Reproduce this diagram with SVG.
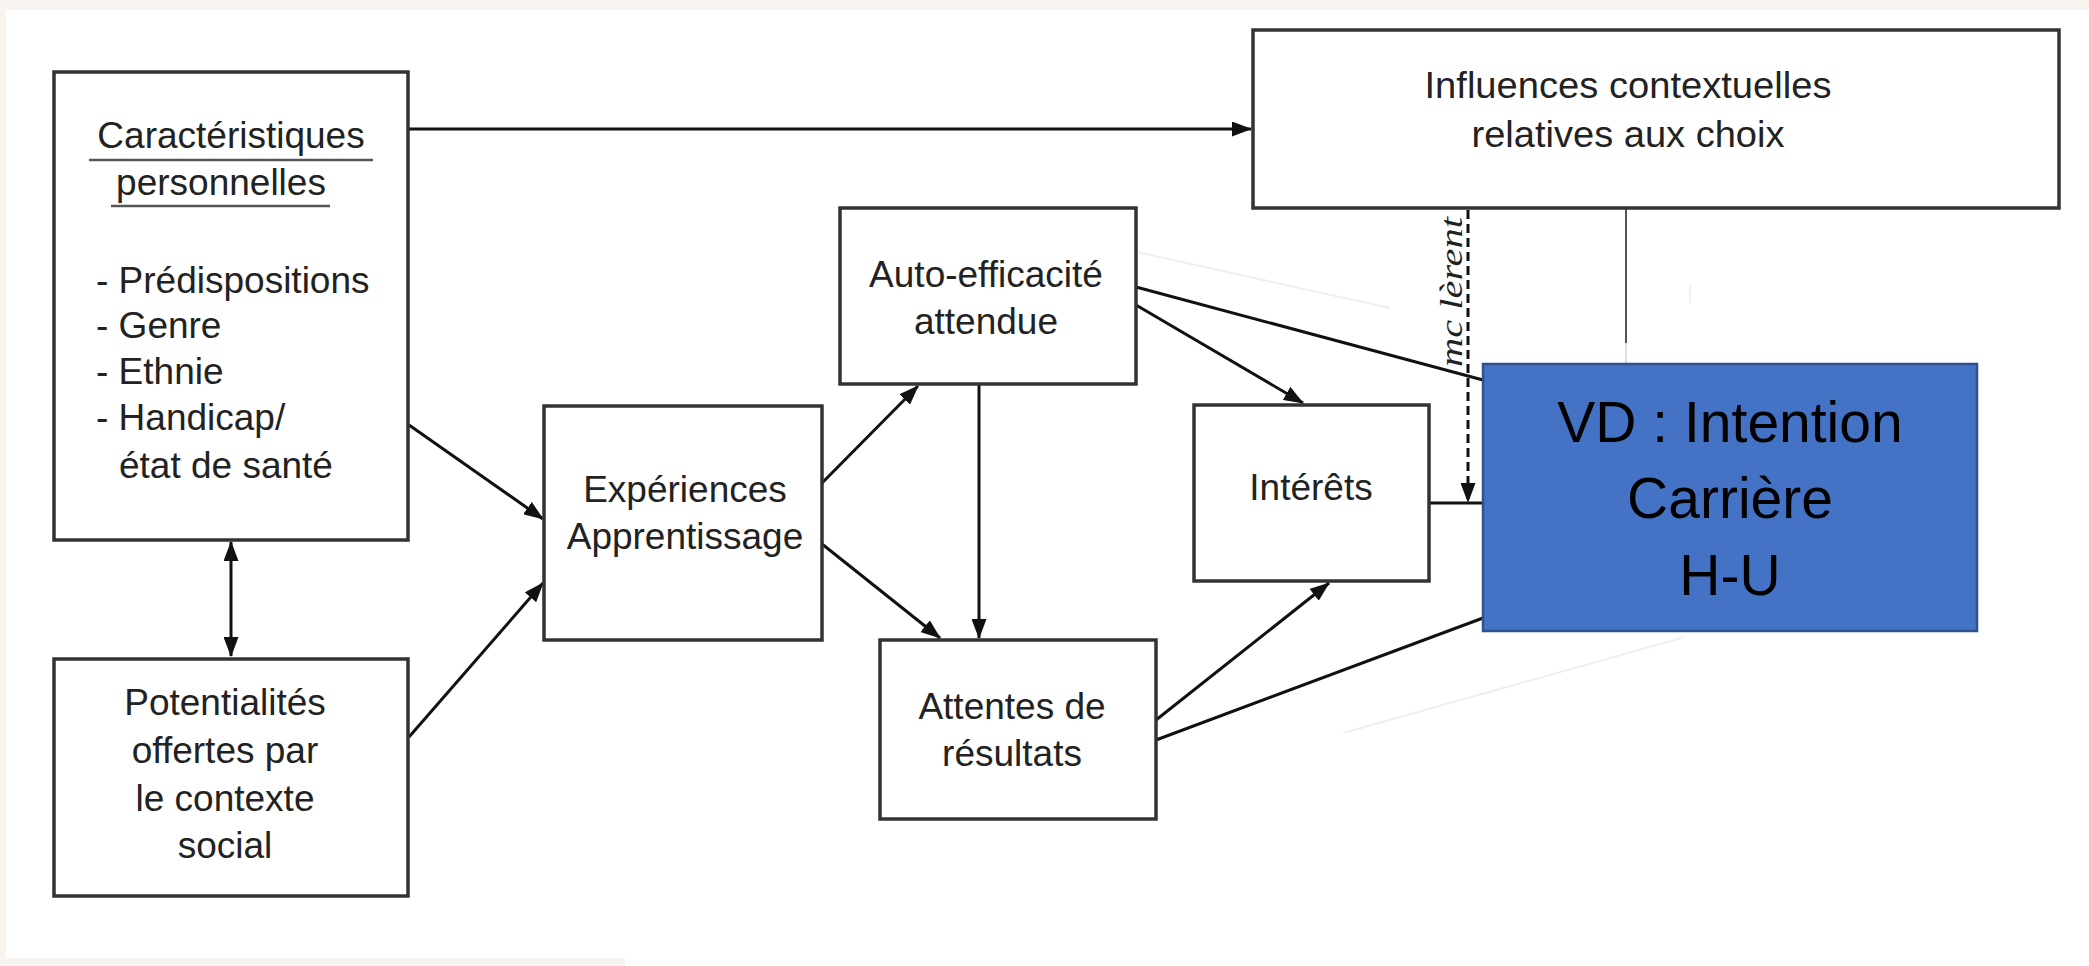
<svg xmlns="http://www.w3.org/2000/svg" width="2089" height="966" viewBox="0 0 2089 966">
<defs>
<marker id="ah" markerUnits="userSpaceOnUse" markerWidth="20" markerHeight="15" refX="19" refY="7.5" orient="auto-start-reverse">
<path d="M0,0 L20,7.5 L0,15 z" fill="#111"/>
</marker>
<style>
.box{fill:#fff;stroke:#333;stroke-width:3.5}
.t{font-family:"Liberation Sans",Arial,sans-serif;font-size:37px;fill:#222}
.c{text-anchor:middle}
.ln{stroke:#111;stroke-width:3;fill:none}
.arr{marker-end:url(#ah)}
.faint{stroke:#efefef;stroke-width:2;fill:none}
.vd{font-family:"Liberation Sans",Arial,sans-serif;font-size:57px;fill:#000;text-anchor:middle}
</style>
</defs>
<rect x="0" y="0" width="2089" height="966" fill="#f8f3ee"/>
<path d="M6,10 H2089 V966 H625 V958 H6 Z" fill="#fff"/>

<g id="connectors">
<line class="ln arr" x1="409" y1="129" x2="1251" y2="129"/>
<line class="ln arr" x1="409" y1="425" x2="543" y2="519"/>
<line class="ln arr" x1="409" y1="737" x2="543" y2="583"/>
<line class="ln arr" x1="231" y1="542" x2="231" y2="656" style="marker-start:url(#ah)"/>
<line class="ln arr" x1="822" y1="483" x2="918" y2="386"/>
<line class="ln arr" x1="822" y1="544" x2="940" y2="638"/>
<line class="ln arr" x1="979" y1="385" x2="979" y2="638"/>
<line class="ln arr" x1="1136" y1="305" x2="1303" y2="403"/>
<line class="ln" x1="1136" y1="287" x2="1483" y2="380"/>
<line class="ln arr" x1="1156" y1="720" x2="1329" y2="583"/>
<line class="ln" x1="1156" y1="740" x2="1483" y2="618"/>
<line class="ln" x1="1429" y1="503" x2="1483" y2="503"/>
<line class="ln arr" x1="1468" y1="210" x2="1468" y2="502" style="stroke-dasharray:9 5;stroke-width:3"/>
<line x1="1626" y1="209" x2="1626" y2="343" stroke="#555" stroke-width="2"/>
<line x1="1626" y1="343" x2="1626" y2="364" stroke="#e0e0e0" stroke-width="2"/>
<line class="faint" x1="1137" y1="252" x2="1390" y2="308"/>
<line class="faint" x1="1343" y1="733" x2="1685" y2="637"/>
<line class="faint" x1="1690" y1="285" x2="1690" y2="303"/>
<text transform="translate(1462,367) rotate(-90)" font-family="'Liberation Serif','Times New Roman',serif" font-style="italic" font-size="31" fill="#222" textLength="150" lengthAdjust="spacingAndGlyphs">mc lèrent</text>
</g>

<g id="caracteristiques">
<rect class="box" x="54" y="72" width="354" height="468"/>
<text class="t c" x="231" y="148">Caractéristiques</text>
<line x1="89" y1="160" x2="373" y2="160" stroke="#555" stroke-width="2.5"/>
<text class="t c" x="221" y="195">personnelles</text>
<line x1="111" y1="206" x2="330" y2="206" stroke="#555" stroke-width="2.5"/>
<text class="t" x="96" y="293">- Prédispositions</text>
<text class="t" x="96" y="338">- Genre</text>
<text class="t" x="96" y="384">- Ethnie</text>
<text class="t" x="96" y="430">- Handicap/</text>
<text class="t" x="119" y="478">état de santé</text>
</g>

<g id="potentialites">
<rect class="box" x="54" y="659" width="354" height="237"/>
<text class="t c" x="225" y="715">Potentialités</text>
<text class="t c" x="225" y="763">offertes par</text>
<text class="t c" x="225" y="811">le contexte</text>
<text class="t c" x="225" y="858">social</text>
</g>

<g id="experiences">
<rect class="box" x="544" y="406" width="278" height="234"/>
<text class="t c" x="685" y="502">Expériences</text>
<text class="t c" x="685" y="549">Apprentissage</text>
</g>

<g id="auto-efficacite">
<rect class="box" x="840" y="208" width="296" height="176"/>
<text class="t c" x="986" y="287">Auto-efficacité</text>
<text class="t c" x="986" y="334">attendue</text>
</g>

<g id="attentes">
<rect class="box" x="880" y="640" width="276" height="179"/>
<text class="t c" x="1012" y="719">Attentes de</text>
<text class="t c" x="1012" y="766">résultats</text>
</g>

<g id="interets">
<rect class="box" x="1194" y="405" width="235" height="176"/>
<text class="t c" x="1311" y="500">Intérêts</text>
</g>

<g id="influences">
<rect class="box" x="1253" y="30" width="806" height="178"/>
<text class="t c" x="1628" y="98" font-size="34" textLength="407" lengthAdjust="spacingAndGlyphs">Influences contextuelles</text>
<text class="t c" x="1628" y="147" font-size="34" textLength="313" lengthAdjust="spacingAndGlyphs">relatives aux choix</text>
</g>

<g id="vd">
<rect x="1483" y="364" width="494" height="267" fill="#4472C4" stroke="#2F528F" stroke-width="2.5"/>
<text class="vd" x="1730" y="442">VD : Intention</text>
<text class="vd" x="1730" y="518">Carrière</text>
<text class="vd" x="1730" y="595">H-U</text>
</g>
</svg>
